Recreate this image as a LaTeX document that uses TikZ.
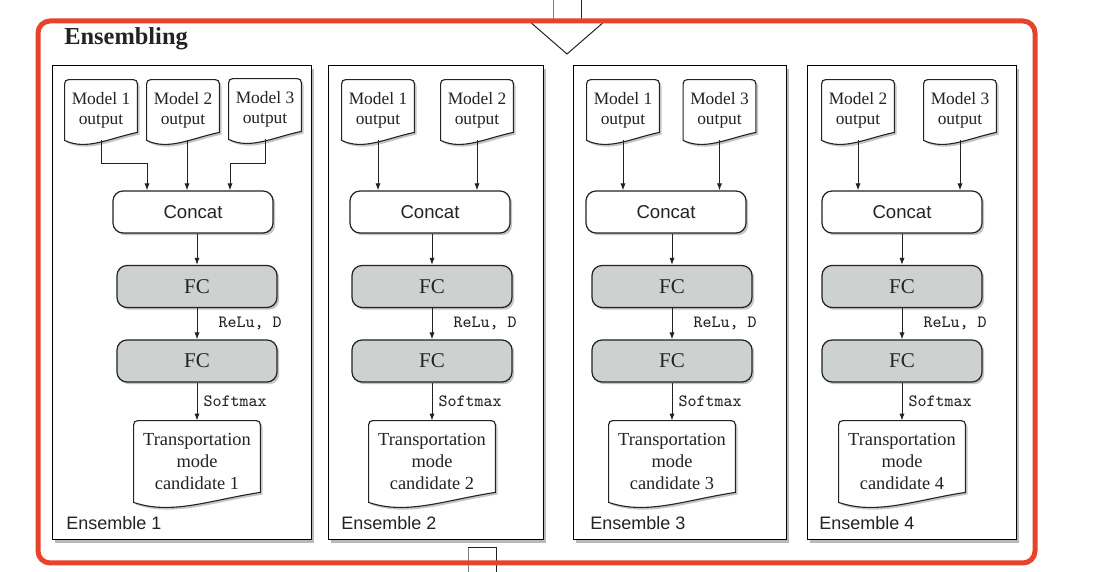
\documentclass[tikz,border=0pt]{standalone}
\usepackage{fontspec}
\setmainfont{Liberation Serif}
\setsansfont{Liberation Sans}
\usetikzlibrary{arrows.meta, shadows, calc, positioning}

\definecolor{ensred}{RGB}{232,67,42}
\definecolor{fcgray}{RGB}{205,209,208}
\definecolor{inkgray}{RGB}{35,35,35}

\pgfdeclarelayer{back}
\pgfdeclarelayer{docs}
\pgfsetlayers{back,docs,main}

\tikzset{
  boxshadow/.style={drop shadow={shadow xshift=1.1pt, shadow yshift=-1.1pt, opacity=0.45}},
  panel/.style={draw=black, fill=white, line width=0.5pt,
    drop shadow={shadow xshift=1.3pt, shadow yshift=-1.3pt, opacity=0.55}},
  concat/.style={draw=inkgray, fill=white, rounded corners=5pt, line width=0.6pt,
    minimum width=80pt, minimum height=21pt, text=inkgray,
    font=\sffamily\fontsize{9.3}{11}\selectfont, boxshadow},
  fc/.style={concat, fill=fcgray, font=\fontsize{10.5}{12}\selectfont},
  modeldoc/.style={minimum width=36pt, minimum height=30pt, inner sep=0pt, align=center,
    text=inkgray, font=\fontsize{8.7}{10}\selectfont},
  outdoc/.style={modeldoc, minimum width=63pt, minimum height=40.5pt,
    font=\fontsize{9.2}{10.8}\selectfont},
  docline/.style={draw=inkgray, fill=white, line width=0.55pt, boxshadow},
  conn/.style={draw=inkgray, line width=0.5pt, -{Latex[length=3.5pt, width=2.6pt]}},
  act/.style={font=\ttfamily\fontsize{8.6}{10}\selectfont, text=inkgray, inner sep=0pt},
  enslabel/.style={anchor=west, text=inkgray, font=\sffamily\fontsize{9}{11}\selectfont, inner sep=0pt},
}

% document outline round a node: #1 node, #2 rise of the wave at the right
\newcommand{\docshape}[2]{%
  \draw[docline] (#1.south west) -- ($(#1.north west)+(0,9)$)
    .. controls (#1.north west) .. ($(#1.north west)+(9,0)$)
    -- ($(#1.north east)+(-9,0)$)
    .. controls (#1.north east) .. ($(#1.north east)+(0,9)$)
    -- ($(#1.south east)+(0,-#2)$)
    .. controls ($(#1.south west)!0.6!(#1.south east)+(0,-0.23*#2)$)
       and ($(#1.south west)!0.3!(#1.south east)+(0,1.3*#2)$) .. (#1.south west)
    -- cycle;}

\begin{document}
\begin{tikzpicture}[x=0.5pt, y=-0.5pt]
\useasboundingbox (0,0) rectangle (1094,572);

% ensemble panels
\begin{pgfonlayer}{back}
  \draw[panel] (52,66) rectangle (311,540);
  \draw[panel] (328,66) rectangle (543,540);
  \draw[panel] (573,66) rectangle (786,540);
  \draw[panel] (807,66) rectangle (1016,540);
\end{pgfonlayer}

\node[anchor=west, inner sep=0pt, text=inkgray, font=\bfseries\fontsize{12.2}{14}\selectfont] (title) at (64,39) {Ensembling};

% model outputs
\node[modeldoc] (m11) at (101,110) {Model 1\\output};
\node[modeldoc] (m12) at (183,110) {Model 2\\output};
\node[modeldoc] (m13) at (265,109) {Model 3\\output};
\node[modeldoc] (m21) at (378,110) {Model 1\\output};
\node[modeldoc] (m22) at (477,110) {Model 2\\output};
\node[modeldoc] (m31) at (623,110) {Model 1\\output};
\node[modeldoc] (m32) at (719.5,110) {Model 3\\output};
\node[modeldoc] (m41) at (858,110) {Model 2\\output};
\node[modeldoc] (m42) at (960,110) {Model 3\\output};
\begin{pgfonlayer}{docs}
  \foreach \n in {m11,m12,m13,m21,m22,m31,m32,m41,m42}
    \docshape{\n}{8};
\end{pgfonlayer}

% lower column of every ensemble
\foreach \i/\cx/\fx/\lx in {1/193/197/66, 2/430/432/341, 3/666/672/590, 4/902/902/819}{
  \node[concat] (cat\i) at (\cx,212) {Concat};
  \node[fc] (fca\i) at (\fx,286.5) {FC};
  \node[fc] (fcb\i) at (\fx,361) {FC};
  \node[outdoc] (cand\i) at (\fx,461.5) {Transportation\\mode\\candidate \i};
  \node[enslabel] (lab\i) at (\lx,523) {Ensemble \i};
  \begin{pgfonlayer}{docs}
    \docshape{cand\i}{10}
  \end{pgfonlayer}
  \draw[conn] (fca\i.north |- cat\i.south) -- (fca\i.north);
  \draw[conn] (fca\i) -- (fcb\i) node[act, midway, right=10.5pt] {ReLu, D};
  \draw[conn] (fcb\i) -- (cand\i) node[act, midway, right=3pt] {Softmax};
}

% inputs into concat
\draw[conn] (m11.south) -- ++(0,23) -| ($(cat1.north)+(-46,0)$);
\draw[conn] ([xshift=2pt]m12.south) -- ([xshift=2pt]m12.south |- cat1.north);
\draw[conn] (m13.south) -- ++(0,24) -| ($(cat1.north)+(37,0)$);
\foreach \n/\c in {m21/cat2, m22/cat2, m31/cat3, m32/cat3, m41/cat4, m42/cat4}
  \draw[conn] (\n.south) -- (\n.south |- \c.north);

% arrow coming in and going out
\coordinate (inl) at (553,0);
\coordinate (inr) at (581,0);
\coordinate (tipl) at (529,21);
\coordinate (tip) at (567,54);
\coordinate (tipr) at (605,21);
\draw[gray, line width=0.5pt] (inl) -- ++(0,21);
\draw[inkgray, line width=0.5pt] (inr) -- ++(0,21);
\draw[inkgray, line width=0.5pt] (tipl) -- (tip) -- (tipr);
\coordinate (outl) at (468,548);
\coordinate (outr) at (496,548);
\draw[gray, line width=0.5pt] (outl) -- ++(0,24);
\draw[inkgray, line width=0.5pt] (outl) -- (outr) -- ++(0,24);

% frame
\draw[ensred, line width=2.5pt, rounded corners=6pt] (38,21) rectangle (1035,563);
\end{tikzpicture}
\end{document}
